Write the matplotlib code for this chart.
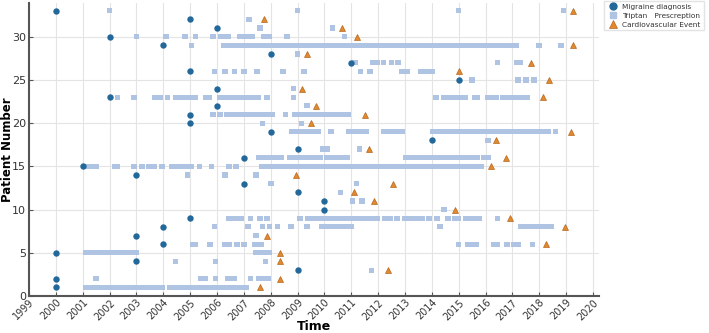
import matplotlib.pyplot as plt
from matplotlib.lines import Line2D

# Migraine diagnosis: (patient, year)
diag_patients = [33, 32, 31, 30, 29, 28, 27, 26, 25, 24, 23, 22, 21, 20, 19, 18, 17,
                 16, 15, 14, 13, 12, 11, 10, 9, 8, 7, 6, 5, 4, 3, 2, 1]
diag_years = [2000.0, 2005.0, 2006.0, 2002.0, 2004.0, 2008.0, 2011.0, 2005.0, 2015.0,
              2006.0, 2002.0, 2006.0, 2005.0, 2005.0, 2008.0, 2014.0, 2009.0,
              2007.0, 2001.0, 2003.0, 2007.0, 2009.0, 2010.0, 2010.0, 2005.0, 2004.0,
              2003.0, 2004.0, 2000.0, 2003.0, 2009.0, 2000.0, 2000.0]

# Cardiovascular event: (patient, year)
cv_patients = [33, 32, 31, 30, 29, 28, 27, 26, 25, 24, 23, 22, 21, 20, 19, 18, 17,
               16, 15, 14, 13, 12, 11, 10, 9, 8, 7, 6, 5, 4, 3, 2, 1]
cv_years = [2019.25, 2007.75, 2010.65, 2011.2, 2019.25, 2009.35, 2017.7, 2015.0, 2018.35,
            2009.15, 2018.15, 2009.7, 2011.5, 2009.5, 2019.2, 2016.4, 2011.65,
            2016.75, 2016.2, 2008.95, 2012.55, 2011.1, 2011.85, 2014.85, 2016.9, 2018.95,
            2007.85, 2018.25, 2008.35, 2008.35, 2012.35, 2008.35, 2007.6]

# Triptan prescriptions: patient -> list of (first, last) prescription years
triptan = {
    33: [(2002.0, 2002.0), (2009.0, 2009.0), (2015.0, 2015.0), (2018.9, 2018.9)],
    32: [(2007.2, 2007.2)],
    31: [(2007.6, 2007.6), (2010.3, 2010.3)],
    30: [(2003.0, 2003.0), (2004.1, 2004.1), (2004.8, 2004.8), (2005.2, 2005.2),
         (2005.85, 2005.85), (2006.15, 2006.4), (2006.85, 2007.3), (2007.75, 2007.95),
         (2008.6, 2008.6), (2010.75, 2010.75)],
    29: [(2005.05, 2005.05), (2006.25, 2017.15), (2018.0, 2018.0), (2018.8, 2018.8)],
    28: [(2009.0, 2009.0)],
    27: [(2011.15, 2011.15), (2011.8, 2011.95), (2012.2, 2012.2), (2012.5, 2012.5),
         (2012.75, 2012.75), (2016.45, 2016.45), (2017.15, 2017.3)],
    26: [(2005.9, 2005.9), (2006.3, 2006.3), (2006.65, 2006.65), (2007.0, 2007.0),
         (2007.5, 2007.5), (2008.45, 2008.45), (2009.25, 2009.25), (2011.35, 2011.35),
         (2011.7, 2011.7), (2012.9, 2013.1), (2013.6, 2014.0)],
    25: [(2015.5, 2015.5), (2017.2, 2017.2), (2017.5, 2017.5), (2017.8, 2017.8)],
    24: [(2008.85, 2008.85)],
    23: [(2002.3, 2002.3), (2002.9, 2002.9), (2003.7, 2003.9), (2004.15, 2004.15),
         (2004.45, 2005.2), (2005.6, 2005.7), (2006.1, 2007.55), (2007.85, 2007.85),
         (2008.85, 2008.85), (2014.15, 2014.15), (2014.45, 2015.25), (2015.6, 2015.7),
         (2016.1, 2016.4), (2016.65, 2017.55)],
    22: [(2009.35, 2009.35)],
    21: [(2005.85, 2005.85), (2006.1, 2006.1), (2006.35, 2008.05), (2008.55, 2008.55),
         (2008.9, 2010.9)],
    20: [(2007.7, 2007.7), (2009.15, 2009.15)],
    19: [(2008.8, 2009.75), (2010.25, 2010.25), (2010.9, 2011.55), (2012.2, 2012.9),
         (2014.05, 2018.35), (2018.6, 2018.6)],
    18: [(2016.1, 2016.1)],
    17: [(2009.95, 2010.1), (2011.3, 2011.3)],
    16: [(2007.55, 2008.4), (2008.7, 2009.85), (2010.1, 2010.85), (2013.05, 2015.7),
         (2015.95, 2016.1)],
    15: [(2001.15, 2001.5), (2002.2, 2002.3), (2002.9, 2002.9), (2003.2, 2003.2),
         (2003.45, 2003.65), (2003.95, 2003.95), (2004.3, 2005.05), (2005.35, 2005.35),
         (2005.8, 2005.8), (2006.45, 2006.45), (2006.7, 2006.7), (2007.65, 2015.85)],
    14: [(2004.9, 2004.9), (2006.3, 2006.3), (2007.45, 2007.45)],
    13: [(2008.0, 2008.0), (2011.2, 2011.2)],
    12: [(2010.6, 2010.6)],
    11: [(2011.05, 2011.05), (2011.4, 2011.4)],
    10: [(2014.45, 2014.45)],
    9: [(2006.45, 2006.9), (2007.25, 2007.25), (2007.6, 2007.6), (2007.85, 2007.85),
        (2009.1, 2009.1), (2009.4, 2011.95), (2012.25, 2012.45), (2012.7, 2012.7),
        (2013.0, 2013.65), (2013.9, 2013.9), (2014.2, 2014.2), (2014.6, 2014.6),
        (2014.85, 2015.0), (2015.25, 2015.75), (2016.45, 2016.45)],
    8: [(2005.9, 2005.9), (2007.15, 2007.15), (2007.7, 2007.7), (2007.95, 2007.95),
        (2008.25, 2008.25), (2008.75, 2008.75), (2009.35, 2009.35), (2009.9, 2011.0),
        (2014.3, 2014.3), (2017.3, 2018.45)],
    7: [(2007.45, 2007.45)],
    6: [(2005.1, 2005.2), (2005.75, 2005.75), (2006.3, 2006.45), (2006.75, 2006.75),
        (2007.0, 2007.0), (2007.4, 2007.65), (2015.0, 2015.0), (2015.35, 2015.65),
        (2016.3, 2016.45), (2016.8, 2016.8), (2017.05, 2017.2), (2017.75, 2017.75)],
    5: [(2001.1, 2003.0), (2007.45, 2007.95)],
    4: [(2004.45, 2004.45), (2005.95, 2005.95), (2007.8, 2007.8)],
    3: [(2011.75, 2011.75)],
    2: [(2001.5, 2001.5), (2005.4, 2005.55), (2005.95, 2005.95), (2006.4, 2006.65),
        (2007.25, 2007.25), (2007.55, 2007.55), (2007.75, 2007.9)],
    1: [(2001.1, 2003.95), (2004.25, 2007.1)],
}

year_ticks = list(range(1999, 2021))
patient_ticks = [0, 5, 10, 15, 20, 25, 30]

c_diag = '#23689a'
c_trip = '#afc4e3'
c_cv = '#e0892e'

fig = plt.figure(figsize=(7.09, 3.33), dpi=100)
ax = fig.add_axes([0.041, 0.111, 0.804, 0.880])

sq_w = 0.21   # width of one prescription square (years)
sq_h = 0.6    # height of one prescription square (patients)
for p, spans in triptan.items():
    ax.broken_barh([(s - sq_w / 2, e - s + sq_w) for s, e in spans],
                   (p - sq_h / 2, sq_h), facecolors=c_trip, edgecolor='none', zorder=2)

ax.plot(diag_years, diag_patients, 'o', color=c_diag, markersize=4.6,
        markeredgewidth=0, zorder=3)
ax.plot(cv_years, cv_patients, '^', color=c_cv, markersize=5,
        markeredgecolor='#b8671f', markeredgewidth=0.5, zorder=3)

ax.set_xlim(1999, 2020.23)
ax.set_ylim(0, 33.9)
ax.set_xticks(year_ticks)
ax.set_xticklabels([str(y) for y in year_ticks], rotation=45, ha='right',
                   rotation_mode='anchor', fontsize=7, color='#333333')
ax.set_yticks(patient_ticks)
ax.tick_params(axis='y', labelsize=8, labelcolor='#333333', pad=2)
ax.tick_params(axis='x', pad=1)
ax.tick_params(direction='in', length=3, color='#555555')
ax.grid(True, color='#e4e4e4', linewidth=0.8, zorder=0)
ax.set_axisbelow(True)

for side in ['top', 'right']:
    ax.spines[side].set_visible(False)
for side in ['left', 'bottom']:
    ax.spines[side].set_color('#555555')
    ax.spines[side].set_linewidth(1.5)

ax.set_xlabel('Time', fontsize=9, fontweight='bold')
ax.xaxis.set_label_coords(0.5, -0.083)
ax.set_ylabel('Patient Number', fontsize=8.5, fontweight='bold')
ax.yaxis.set_label_coords(-0.027, 0.5)

handles = [
    Line2D([], [], marker='o', linestyle='none', color=c_diag, markersize=5),
    Line2D([], [], marker='s', linestyle='none', color=c_trip, markersize=5),
    Line2D([], [], marker='^', linestyle='none', color=c_cv, markersize=5.5,
           markeredgecolor='#b8671f', markeredgewidth=0.5),
]
labels = ['Migraine diagnosis', 'Triptan   Prescreption', 'Cardiovascular Event']
fig.legend(handles, labels, loc='upper left', bbox_to_anchor=(0.852, 0.998),
           fontsize=5.3, frameon=True, fancybox=False, edgecolor='#dddddd',
           handletextpad=0.6, borderpad=0.4, labelspacing=0.37, handlelength=1.5,
           borderaxespad=0, labelcolor='#333333')

fig.savefig('out.png', dpi=100)
